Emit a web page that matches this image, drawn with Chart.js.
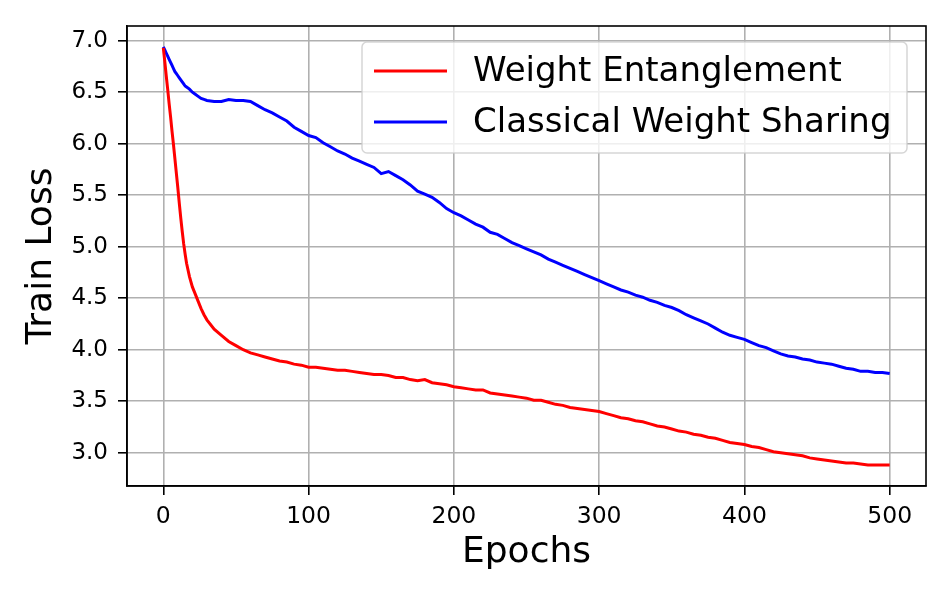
<!DOCTYPE html>
<html>
<head>
<meta charset="utf-8">
<script src="https://cdn.jsdelivr.net/npm/chart.js@4.4.1/dist/chart.umd.min.js"></script>
<style>
  html, body { margin: 0; padding: 0; background: #fff; }
  canvas { display: block; }
</style>
</head>
<body>
<canvas id="chart" width="951" height="599"></canvas>
<script>
const epochs = [
  0, 1, 2, 3, 4, 5, 6, 7, 8, 9, 10, 11, 12, 13, 14, 15, 16,
  18, 20, 22, 24, 26, 28, 30,
  35, 40, 45, 50, 55, 60, 65, 70, 75, 80, 85, 90, 95, 100,
  105, 110, 115, 120, 125, 130, 135, 140, 145, 150, 155, 160, 165, 170, 175, 180, 185, 190, 195, 200,
  205, 210, 215, 220, 225, 230, 235, 240, 245, 250, 255, 260, 265, 270, 275, 280, 285, 290, 295, 300,
  305, 310, 315, 320, 325, 330, 335, 340, 345, 350, 355, 360, 365, 370, 375, 380, 385, 390, 395, 400,
  405, 410, 415, 420, 425, 430, 435, 440, 445, 450, 455, 460, 465, 470, 475, 480, 485, 490, 495, 500
];

const weightEntanglement = [
  6.93, 6.80, 6.66, 6.53, 6.39, 6.26, 6.12, 5.99, 5.85, 5.71, 5.57, 5.42, 5.28, 5.15, 5.03, 4.93, 4.84,
  4.71, 4.61, 4.54, 4.47, 4.40, 4.34, 4.29,
  4.20, 4.14, 4.08, 4.04, 4.00, 3.97, 3.95, 3.93, 3.91, 3.89, 3.88, 3.86, 3.85, 3.83,
  3.83, 3.82, 3.81, 3.80, 3.80, 3.79, 3.78, 3.77, 3.76, 3.76, 3.75, 3.73, 3.73, 3.71, 3.70, 3.71, 3.68, 3.67, 3.66, 3.64,
  3.63, 3.62, 3.61, 3.61, 3.58, 3.57, 3.56, 3.55, 3.54, 3.53, 3.51, 3.51, 3.49, 3.47, 3.46, 3.44, 3.43, 3.42, 3.41, 3.40,
  3.38, 3.36, 3.34, 3.33, 3.31, 3.30, 3.28, 3.26, 3.25, 3.23, 3.21, 3.20, 3.18, 3.17, 3.15, 3.14, 3.12, 3.10, 3.09, 3.08,
  3.06, 3.05, 3.03, 3.01, 3.00, 2.99, 2.98, 2.97, 2.95, 2.94, 2.93, 2.92, 2.91, 2.90, 2.90, 2.89, 2.88, 2.88, 2.88, 2.88
];

const classicalSharing = [
  6.94, 6.91, 6.88, 6.85, 6.82, 6.79, 6.76, 6.73, 6.70, 6.68, 6.66, 6.64, 6.62, 6.60, 6.58, 6.56, 6.55,
  6.53, 6.50, 6.48, 6.46, 6.44, 6.43, 6.42,
  6.41, 6.41, 6.43, 6.42, 6.42, 6.41, 6.37, 6.33, 6.30, 6.26, 6.22, 6.16, 6.12, 6.08,
  6.06, 6.01, 5.97, 5.93, 5.90, 5.86, 5.83, 5.80, 5.77, 5.71, 5.73, 5.69, 5.65, 5.60, 5.54, 5.51, 5.48, 5.43, 5.37, 5.33,
  5.30, 5.26, 5.22, 5.19, 5.14, 5.12, 5.08, 5.04, 5.01, 4.98, 4.95, 4.92, 4.88, 4.85, 4.82, 4.79, 4.76, 4.73, 4.70, 4.67,
  4.64, 4.61, 4.58, 4.56, 4.53, 4.51, 4.48, 4.46, 4.43, 4.41, 4.38, 4.34, 4.31, 4.28, 4.25, 4.21, 4.17, 4.14, 4.12, 4.10,
  4.07, 4.04, 4.02, 3.99, 3.96, 3.94, 3.93, 3.91, 3.90, 3.88, 3.87, 3.86, 3.84, 3.82, 3.81, 3.79, 3.79, 3.78, 3.78, 3.77
];

const seriesNames = ["Weight Entanglement", "Classical Weight Sharing"];
const seriesColors = ["#ff0000", "#0000ff"];

const FONT = "'DejaVu Sans', sans-serif";

function toPoints(ys) {
  return epochs.map((e, i) => ({ x: e, y: ys[i] }));
}

// border on all four sides + matplotlib-ish legend box in the upper right
const framePlugin = {
  id: "frame",
  afterDatasetsDraw(chart) {
    const { ctx, chartArea: a } = chart;
    ctx.save();
    ctx.strokeStyle = "#000";
    ctx.lineWidth = 1.6;
    ctx.strokeRect(a.left, a.top, a.right - a.left, a.bottom - a.top);

    // legend
    const bx = 362, by = 42, bw = 545, bh = 111, r = 5;
    ctx.beginPath();
    ctx.moveTo(bx + r, by);
    ctx.arcTo(bx + bw, by, bx + bw, by + bh, r);
    ctx.arcTo(bx + bw, by + bh, bx, by + bh, r);
    ctx.arcTo(bx, by + bh, bx, by, r);
    ctx.arcTo(bx, by, bx + bw, by, r);
    ctx.closePath();
    ctx.fillStyle = "rgba(255,255,255,0.8)";
    ctx.fill();
    ctx.strokeStyle = "rgba(204,204,204,0.8)";
    ctx.lineWidth = 1.5;
    ctx.stroke();

    ctx.font = "34px " + FONT;
    ctx.textBaseline = "middle";
    ctx.textAlign = "left";
    chart.data.datasets.forEach((ds, i) => {
      const y = 71 + i * 51;
      ctx.beginPath();
      ctx.moveTo(374, y);
      ctx.lineTo(447, y);
      ctx.strokeStyle = ds.borderColor;
      ctx.lineWidth = 3;
      ctx.stroke();
      ctx.fillStyle = "#000";
      ctx.fillText(ds.label, 473, y + 1);
    });
    ctx.restore();
  }
};

const ctx = document.getElementById("chart").getContext("2d");
new Chart(ctx, {
  type: "line",
  data: {
    datasets: [
      {
        label: seriesNames[0],
        data: toPoints(weightEntanglement),
        borderColor: seriesColors[0],
        borderWidth: 3,
        pointRadius: 0,
        tension: 0,
        fill: false,
      },
      {
        label: seriesNames[1],
        data: toPoints(classicalSharing),
        borderColor: seriesColors[1],
        borderWidth: 3,
        pointRadius: 0,
        tension: 0,
        fill: false,
      },
    ],
  },
  options: {
    responsive: false,
    animation: false,
    devicePixelRatio: 1,
    layout: { padding: { left: 0, top: 26, right: 25, bottom: 0 } },
    plugins: {
      legend: { display: false },
      tooltip: { enabled: false },
    },
    scales: {
      x: {
        type: "linear",
        min: -25,
        max: 525,
        afterFit: (s) => { s.height = 113; },
        ticks: {
          stepSize: 100,
          includeBounds: false,
          padding: 8,
          color: "#000",
          font: { family: FONT, size: 23.5 },
          maxRotation: 0,
        },
        grid: { color: "#b0b0b0", lineWidth: 1.6, tickLength: 9, tickColor: "#000", tickWidth: 1.6 },
        border: { color: "#000", width: 1.6 },
        title: {
          display: true,
          text: "Epochs",
          color: "#000",
          font: { family: FONT, size: 36 },
          padding: { top: 0, bottom: 25 },
        },
      },
      y: {
        type: "linear",
        min: 2.677,
        max: 7.143,
        afterFit: (s) => { s.width = 127; },
        ticks: {
          stepSize: 0.5,
          includeBounds: false,
          padding: 10,
          color: "#000",
          font: { family: FONT, size: 23 },
          callback: (v) => v.toFixed(1),
        },
        grid: { color: "#b0b0b0", lineWidth: 1.6, tickLength: 9, tickColor: "#000", tickWidth: 1.6 },
        border: { color: "#000", width: 1.6 },
        title: {
          display: true,
          text: "Train Loss",
          color: "#000",
          font: { family: FONT, size: 36 },
          padding: { top: 20, bottom: 0 },
        },
      },
    },
  },
  plugins: [framePlugin],
});
</script>
</body>
</html>
